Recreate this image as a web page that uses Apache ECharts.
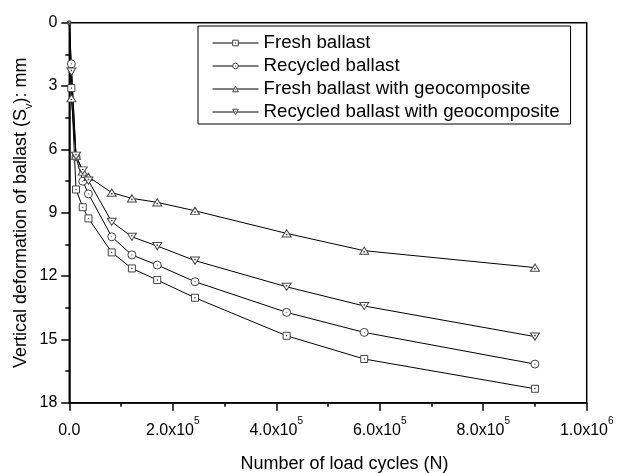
<!DOCTYPE html>
<html>
<head>
<meta charset="utf-8">
<title>Vertical deformation of ballast</title>
<script src="https://cdn.jsdelivr.net/npm/echarts@6/dist/echarts.min.js"></script>
<style>
  html, body { margin: 0; padding: 0; background: #fff; }
  #chart { width: 622px; height: 473px; }
</style>
</head>
<body>
<div id="chart"></div>
<script>
// load cycles (N)
const nCycles = [0, 4000, 13000, 26000, 37000, 82000, 121000, 170000, 243000, 420000, 570000, 900000];

// vertical deformation Sv (mm)
const fresh       = [0, 3.10, 7.90, 8.74, 9.27, 10.88, 11.64, 12.19, 13.03, 14.83, 15.93, 17.34];
const recycled    = [0, 1.95, 6.35, 7.51, 8.11, 10.14, 11.00, 11.48, 12.27, 13.72, 14.67, 16.17];
const freshGeo    = [0, 3.58, 6.30, 7.05, 7.30, 8.05, 8.32, 8.51, 8.91, 9.98, 10.80, 11.60];
const recycledGeo = [0, 2.32, 6.30, 7.00, 7.48, 9.43, 10.14, 10.58, 11.27, 12.51, 13.42, 14.87];

const seriesNames = [
  'Fresh ballast',
  'Recycled ballast',
  'Fresh ballast with geocomposite',
  'Recycled ballast with geocomposite'
];

// hollow markers with a small dot in the middle (like Origin)
const symbols = [
  'path://M0,0 L10,0 L10,10 L0,10 Z M4.6,4.6 L5.4,4.6 L5.4,5.4 L4.6,5.4 Z',
  'path://M5,0 A5,5 0 1,1 5,10 A5,5 0 1,1 5,0 Z M4.7,5 A0.3,0.3 0 1,1 5.3,5 A0.3,0.3 0 1,1 4.7,5 Z',
  'path://M5,0 L10,9 L0,9 Z M4.7,5.6 L5.3,5.6 L5.3,6.2 L4.7,6.2 Z',
  'path://M0,0 L10,0 L5,9 Z M4.7,2.8 L5.3,2.8 L5.3,3.4 L4.7,3.4 Z'
];
const symbolSizes = [[7, 7], [8, 8], [9, 8], [9, 8]];

const FONT = 'Liberation Sans, Arial, sans-serif';

function pairs(ys) {
  return nCycles.map((x, i) => [x, ys[i]]);
}

function makeSeries(name, ys, idx) {
  return {
    name: name,
    type: 'line',
    data: pairs(ys),
    symbol: symbols[idx],
    // the N = 0 point sits in the corner and is barely visible in the original
    symbolSize: function (v) {
      return v[0] === 0 ? [3, 3] : symbolSizes[idx];
    },
    symbolKeepAspect: true,
    showAllSymbol: true,
    clip: false,
    lineStyle: { color: '#000', width: 1 },
    itemStyle: { color: '#fff', borderColor: '#444', borderWidth: 1 },
    emphasis: { disabled: true },
    animation: false
  };
}

const chart = echarts.init(document.getElementById('chart'), null, { renderer: 'canvas' });

chart.setOption({
  backgroundColor: '#fff',
  animation: false,
  grid: {
    left: 69.3, right: 35.3, top: 22.7, bottom: 70.3,
    outerBoundsMode: 'none',
    containLabel: false,
    show: true, borderColor: '#000', borderWidth: 1.5
  },
  legend: {
    orient: 'vertical',
    left: 198, top: 26,
    padding: [7, 11, 2, 14],
    itemWidth: 46, itemHeight: 7, itemGap: 3,
    backgroundColor: '#fff',
    borderColor: '#000', borderWidth: 1,
    lineStyle: { width: 1, color: '#000' },
    itemStyle: { color: '#fff', borderColor: '#444', borderWidth: 1 },
    textStyle: { fontFamily: FONT, fontSize: 18.7, color: '#000', lineHeight: 20 },
    data: seriesNames
  },
  xAxis: {
    type: 'value',
    min: 0, max: 1000000, interval: 200000,
    name: 'Number of load cycles (N)',
    nameLocation: 'middle',
    nameGap: 52,
    nameMoveOverlap: false,
    nameTextStyle: { fontFamily: FONT, fontSize: 18, color: '#000', padding: [0, 0, 0, 33] },
    axisLine: { show: true, onZero: false, lineStyle: { color: '#000', width: 1.5 } },
    axisTick: { show: true, inside: false, length: 8, lineStyle: { color: '#000', width: 1.5 } },
    minorTick: { show: true, splitNumber: 2, length: 4, lineStyle: { color: '#000', width: 1.5 } },
    splitLine: { show: false },
    axisLabel: {
      margin: 14,
      fontFamily: FONT, fontSize: 16, color: '#000',
      formatter: function (v) {
        if (v === 0) return '{b|0.0}';
        const exp = Math.floor(Math.log10(v) + 1e-9);
        const mant = (v / Math.pow(10, exp)).toFixed(1);
        return '{b|' + mant + 'x10}{s|' + exp + '}';
      },
      rich: {
        b: { fontFamily: FONT, fontSize: 16, color: '#000', lineHeight: 22, verticalAlign: 'bottom' },
        s: { fontFamily: FONT, fontSize: 10, color: '#000', lineHeight: 22, verticalAlign: 'top' }
      }
    }
  },
  yAxis: {
    type: 'value',
    inverse: true,
    min: 0, max: 18, interval: 3,
    name: '{t|Vertical deformation of ballast (S}{sub|v}{t|): mm}',
    nameLocation: 'middle',
    nameRotate: 90,
    nameGap: 35,
    nameMoveOverlap: false,
    nameTextStyle: {
      fontFamily: FONT, fontSize: 18, color: '#000',
      rich: {
        t: { fontFamily: FONT, fontSize: 18, color: '#000', lineHeight: 22, verticalAlign: 'top' },
        sub: { fontFamily: FONT, fontSize: 11, color: '#000', lineHeight: 22, verticalAlign: 'bottom' }
      }
    },
    axisLine: { show: true, onZero: false, lineStyle: { color: '#000', width: 1.5 } },
    axisTick: { show: true, inside: false, length: 8, lineStyle: { color: '#000', width: 1.5 } },
    minorTick: { show: true, splitNumber: 2, length: 4, lineStyle: { color: '#000', width: 1.5 } },
    splitLine: { show: false },
    axisLabel: { margin: 12, fontFamily: FONT, fontSize: 16, color: '#000' }
  },
  series: [
    makeSeries(seriesNames[0], fresh, 0),
    makeSeries(seriesNames[1], recycled, 1),
    makeSeries(seriesNames[2], freshGeo, 2),
    makeSeries(seriesNames[3], recycledGeo, 3)
  ]
});
</script>
</body>
</html>
